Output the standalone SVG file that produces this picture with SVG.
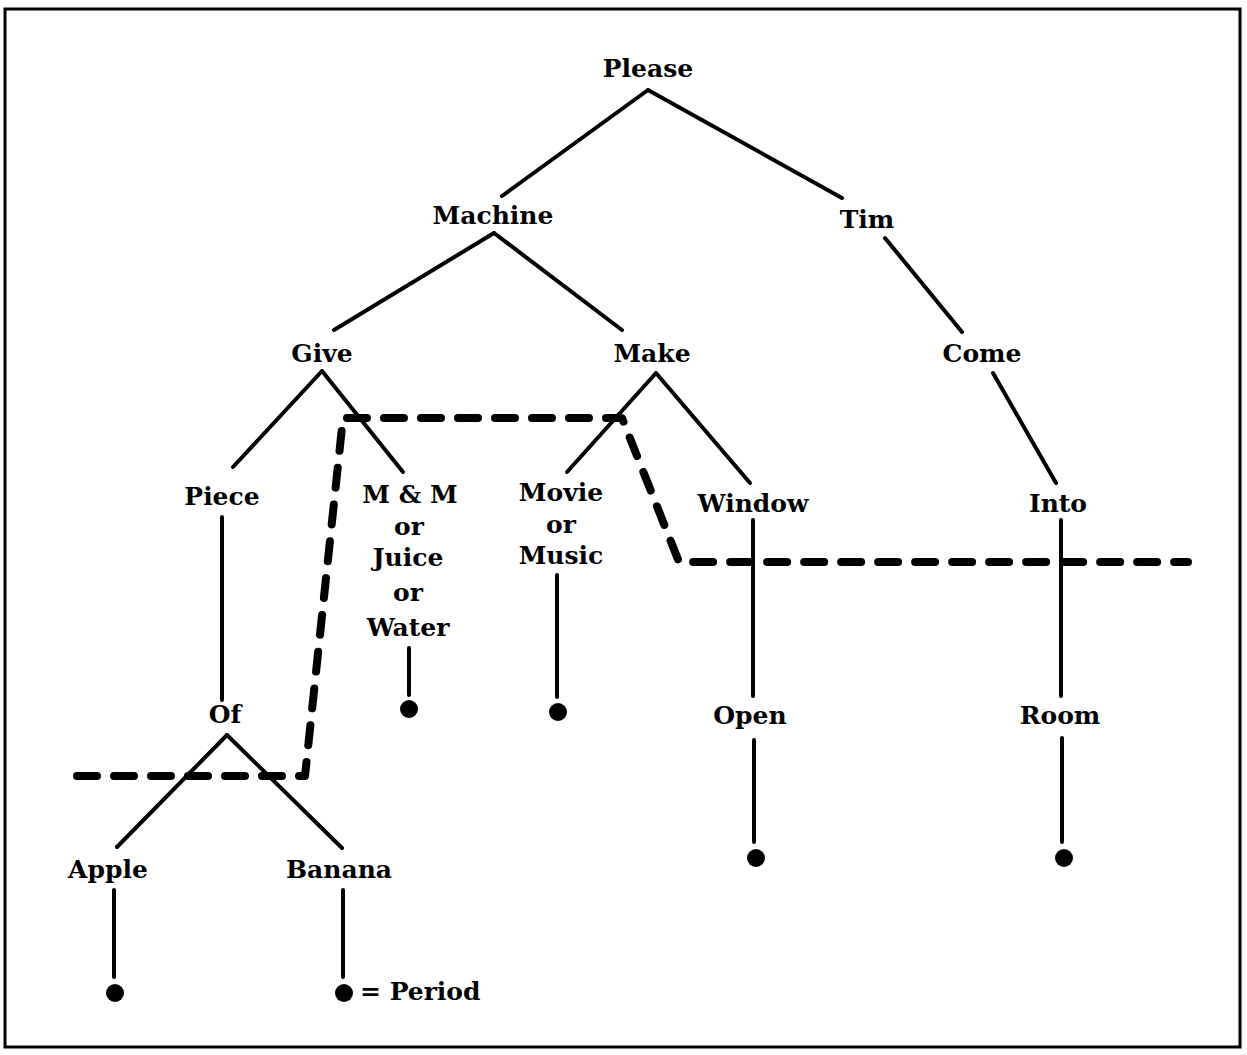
<svg xmlns="http://www.w3.org/2000/svg" width="1247" height="1055" viewBox="0 0 1247 1055">
<style>
  .lbl { font-family: "DejaVu Serif", "Liberation Serif", serif; font-weight: bold; font-size: 25px; fill: #000; text-anchor: middle; }
  .leg { font-family: "DejaVu Serif", "Liberation Serif", serif; font-weight: bold; font-size: 25px; fill: #000; }
  .edge { stroke: #000; stroke-width: 4; fill: none; stroke-linecap: round; }
  .dash { stroke: #000; stroke-width: 8; fill: none; stroke-dasharray: 20 17; stroke-linecap: round; stroke-linejoin: round; }
  .dot { fill: #000; }
</style>
<rect x="0" y="0" width="1247" height="1055" fill="#fff"/>
<rect x="5" y="9" width="1235" height="1038" fill="none" stroke="#000" stroke-width="3"/>

<g id="connectors">
  <line class="edge" x1="648" y1="90" x2="502" y2="196"/>
  <line class="edge" x1="648" y1="90" x2="842" y2="198"/>
  <line class="edge" x1="494" y1="233" x2="334" y2="330"/>
  <line class="edge" x1="494" y1="233" x2="622" y2="330"/>
  <line class="edge" x1="885" y1="238" x2="962" y2="332"/>
  <line class="edge" x1="322" y1="371" x2="233" y2="467"/>
  <line class="edge" x1="322" y1="371" x2="403" y2="472"/>
  <line class="edge" x1="656" y1="373" x2="567" y2="472"/>
  <line class="edge" x1="656" y1="373" x2="750" y2="483"/>
  <line class="edge" x1="993" y1="373" x2="1056" y2="483"/>
  <line class="edge" x1="222" y1="517" x2="222" y2="700"/>
  <line class="edge" x1="409" y1="648" x2="409" y2="695"/>
  <line class="edge" x1="557" y1="575" x2="557" y2="697"/>
  <line class="edge" x1="753" y1="520" x2="753" y2="696"/>
  <line class="edge" x1="1061" y1="520" x2="1061" y2="696"/>
  <line class="edge" x1="754" y1="740" x2="754" y2="842"/>
  <line class="edge" x1="1062" y1="738" x2="1062" y2="842"/>
  <line class="edge" x1="227" y1="735" x2="117" y2="847"/>
  <line class="edge" x1="227" y1="735" x2="342" y2="848"/>
  <line class="edge" x1="114" y1="890" x2="114" y2="977"/>
  <line class="edge" x1="343" y1="890" x2="343" y2="977"/>
</g>

<g id="boundary">
  <path class="dash" d="M 77 776 L 305 776 L 343 418 L 622 418 L 679 562 L 1188 562"/>
</g>

<g id="n-please"><text class="lbl" x="648" y="77">Please</text></g>
<g id="n-machine"><text class="lbl" x="493" y="224">Machine</text></g>
<g id="n-tim"><text class="lbl" x="867" y="228">Tim</text></g>
<g id="n-give"><text class="lbl" x="322" y="362">Give</text></g>
<g id="n-make"><text class="lbl" x="652" y="362">Make</text></g>
<g id="n-come"><text class="lbl" x="982" y="362">Come</text></g>
<g id="n-piece"><text class="lbl" x="222" y="505">Piece</text></g>
<g id="n-mm">
  <text class="lbl" x="410" y="503">M &amp; M</text>
  <text class="lbl" x="409" y="535">or</text>
  <text class="lbl" x="408" y="566">Juice</text>
  <text class="lbl" x="408" y="601">or</text>
  <text class="lbl" x="408" y="636">Water</text>
</g>
<g id="n-movie">
  <text class="lbl" x="561" y="501">Movie</text>
  <text class="lbl" x="561" y="533">or</text>
  <text class="lbl" x="561" y="564">Music</text>
</g>
<g id="n-window"><text class="lbl" x="753" y="512">Window</text></g>
<g id="n-into"><text class="lbl" x="1058" y="512">Into</text></g>
<g id="n-of"><text class="lbl" x="225" y="723">Of</text></g>
<g id="n-open"><text class="lbl" x="750" y="724">Open</text></g>
<g id="n-room"><text class="lbl" x="1060" y="724">Room</text></g>
<g id="n-apple"><text class="lbl" x="108" y="878">Apple</text></g>
<g id="n-banana"><text class="lbl" x="339" y="878">Banana</text></g>

<g id="end-water"><circle class="dot" cx="409" cy="709" r="9"/></g>
<g id="end-music"><circle class="dot" cx="558" cy="712" r="9"/></g>
<g id="end-open"><circle class="dot" cx="756" cy="858" r="9"/></g>
<g id="end-room"><circle class="dot" cx="1064" cy="858" r="9"/></g>
<g id="end-apple"><circle class="dot" cx="115" cy="993" r="9"/></g>
<g id="end-banana"><circle class="dot" cx="344" cy="993" r="9"/></g>
<g id="legend"><text class="leg" x="360" y="1000">= Period</text></g>
</svg>
